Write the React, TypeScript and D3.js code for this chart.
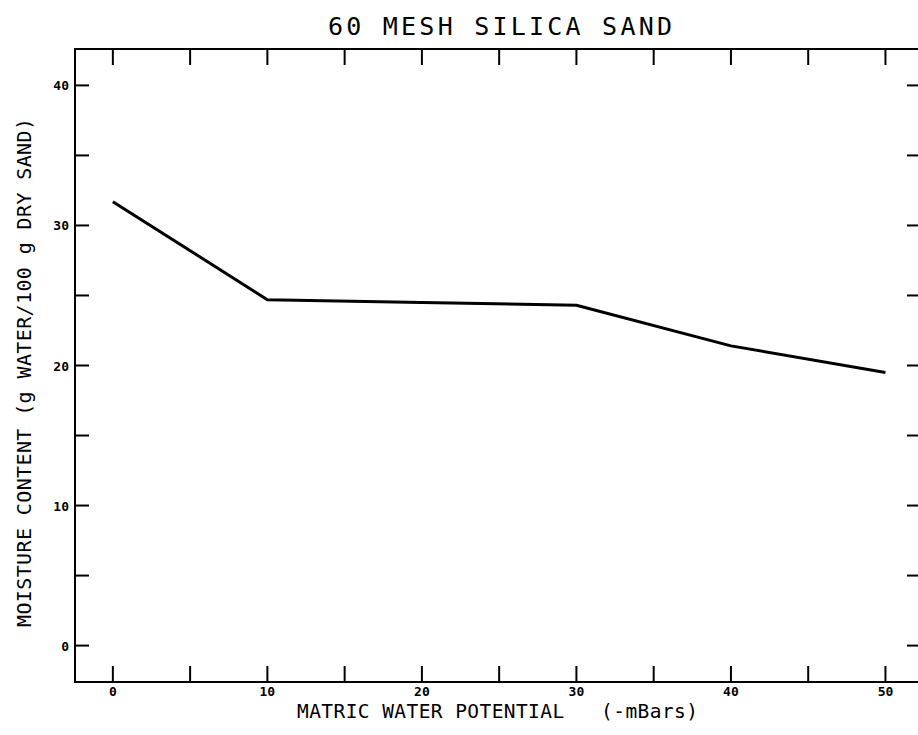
import React from "react";
import * as d3 from "d3";

const potential = [0, 10, 20, 30, 40, 50];
const moisture = [31.7, 24.7, 24.5, 24.3, 21.4, 19.5];
const xTicks = [0, 5, 10, 15, 20, 25, 30, 35, 40, 45, 50];
const xLabels = [0, 10, 20, 30, 40, 50];
const yTicks = [0, 5, 10, 15, 20, 25, 30, 35, 40];
const yLabels = [0, 10, 20, 30, 40];

const W = 918;
const H = 735;
const L = 75, R = 921, T = 49, B = 682;

const FONT = "'DejaVu Sans Mono', 'Liberation Mono', monospace";

export default function App() {
  const x = d3.scaleLinear().domain([-2.45, 52.3]).range([L, R]);
  const y = d3.scaleLinear().domain([-2.6, 42.6]).range([B, T]);
  const line = d3
    .line<number>()
    .x((_, i) => x(potential[i]))
    .y((d) => y(d));

  return (
    <svg
      width={W}
      height={H}
      style={{ position: "absolute", left: 0, top: 0, background: "#fff" }}
    >
      <rect x={0} y={0} width={W} height={H} fill="#fff" />
      {/* frame */}
      <rect x={L} y={T} width={R - L} height={B - T} fill="none" stroke="#000" strokeWidth={2} />
      {/* x ticks */}
      {xTicks.map((t) => (
        <g key={"xt" + t}>
          <line x1={x(t)} x2={x(t)} y1={B} y2={B - 16} stroke="#000" strokeWidth={2} />
          <line x1={x(t)} x2={x(t)} y1={T} y2={T + 16} stroke="#000" strokeWidth={2} />
        </g>
      ))}
      {xLabels.map((t) => (
        <text
          key={"xl" + t}
          x={x(t)}
          y={696}
          textAnchor="middle"
          fontFamily={FONT}
          fontWeight="bold"
          fontSize={13}
        >
          {t}
        </text>
      ))}
      {/* y ticks */}
      {yTicks.map((t) => (
        <g key={"yt" + t}>
          <line x1={L} x2={L + 14} y1={y(t)} y2={y(t)} stroke="#000" strokeWidth={2} />
          <line x1={R} x2={R - 14} y1={y(t)} y2={y(t)} stroke="#000" strokeWidth={2} />
        </g>
      ))}
      {yLabels.map((t) => (
        <text
          key={"yl" + t}
          x={69}
          y={y(t) + 5}
          textAnchor="end"
          fontFamily={FONT}
          fontWeight="bold"
          fontSize={13}
        >
          {t}
        </text>
      ))}
      {/* data line */}
      <path d={line(moisture) || ""} fill="none" stroke="#000" strokeWidth={3} strokeLinejoin="round" />
      {/* title */}
      <text
        x={328}
        y={35}
        fontFamily={FONT}
        fontSize={25}
        textLength={344}
        lengthAdjust="spacing"
      >
        60 MESH SILICA SAND
      </text>
      {/* x axis title */}
      <text
        x={297}
        y={718}
        fontFamily={FONT}
        fontSize={19.5}
        textLength={401}
        lengthAdjust="spacing"
        style={{ whiteSpace: "pre" }}
      >
        {"MATRIC WATER POTENTIAL   (-mBars)"}
      </text>
      {/* y axis title */}
      <text
        transform="translate(31,627) rotate(-90)"
        x={0}
        y={0}
        fontFamily={FONT}
        fontSize={20}
        textLength={509}
        lengthAdjust="spacing"
      >
        MOISTURE CONTENT (g WATER/100 g DRY SAND)
      </text>
    </svg>
  );
}
